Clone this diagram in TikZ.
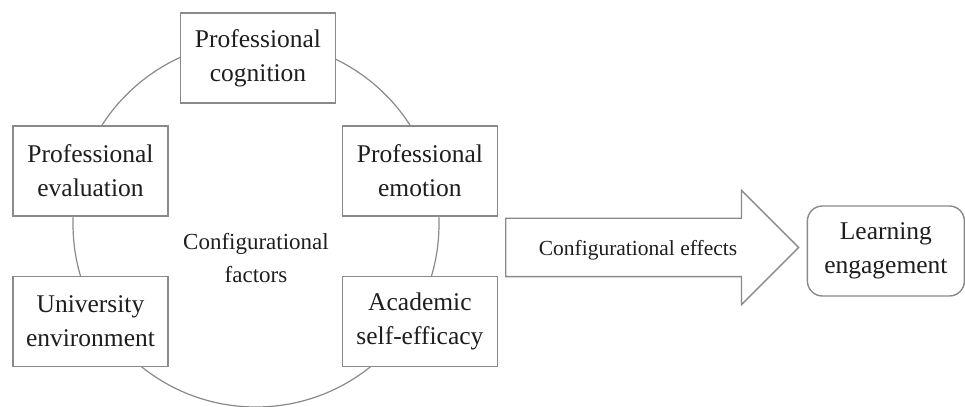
\documentclass[tikz,border=0pt]{standalone}
\usepackage{fontspec}
\setmainfont{Liberation Serif}
\usetikzlibrary{positioning,shapes.arrows}
\definecolor{linegray}{HTML}{8A8A8A}
\definecolor{textblack}{HTML}{1E1E1E}

\begin{document}
\begin{tikzpicture}[x=0.5pt, y=0.5pt,
factor/.style={rectangle, draw=linegray, fill=white, line width=0.7pt, minimum width=77.5pt, minimum height=45pt, align=center, inner sep=2pt, text=textblack, font=\fontsize{12.75}{17}\selectfont},
outcome/.style={factor, rounded corners=7.5pt, minimum width=78.5pt},
bigarrow/.style={single arrow, draw=linegray, line width=0.7pt, minimum height=146.5pt, minimum width=56.5pt, single arrow head extend=14pt, inner xsep=0pt, inner ysep=14.25pt},
ring/.style={circle, draw=linegray, line width=0.6pt, minimum size=183pt, inner sep=0pt}
]
\useasboundingbox (0,0) rectangle (965,407);
%Circle
\node[ring]                  (cf)      at (256,183)               {};
\node[align=center, text=textblack, font=\fontsize{11.5}{16.5}\selectfont] (cflabel) at (256,149) {Configurational\\factors};
%Nodes
\node[factor]                (cog)     at (258,349)               {Professional\\cognition};
\node[factor]                (eval)    at (90.5,236)              {Professional\\evaluation};
\node[factor]                (emo)     [right=86.5pt of eval]     {Professional\\emotion};
\node[factor]                (env)     [below=29.5pt of eval]     {University\\environment};
\node[factor]                (eff)     [below=29.5pt of emo]      {Academic\\self-efficacy};
%Arrow
\node[bigarrow, anchor=tail] (arr)     at (505,159.5)             {};
\node[text=textblack, font=\fontsize{10.75}{13}\selectfont] (arrlabel) at (638,157) {Configurational effects};
\node[outcome]               (learn)   [right=3.5pt of arr.tip, yshift=-1.75pt] {Learning\\engagement};
\end{tikzpicture}
\end{document}
